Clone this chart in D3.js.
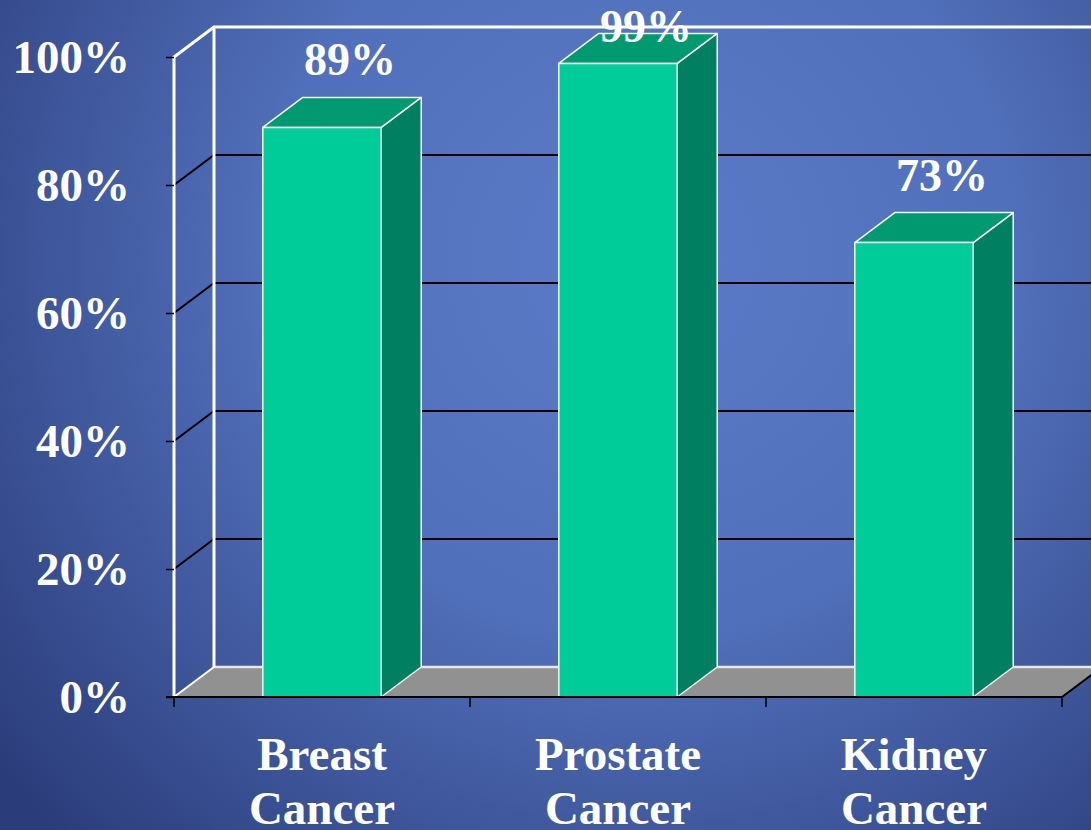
<!DOCTYPE html>
<html>
<head>
<meta charset="utf-8">
<script src="https://cdn.jsdelivr.net/npm/d3@7"></script>
<style>
  html, body { margin: 0; padding: 0; overflow: hidden; }
  svg { display: block; }
  text { font-family: 'Liberation Serif', 'Times New Roman', serif; font-weight: bold; fill: #fff; }
</style>
</head>
<body>
<svg id="chart"></svg>
<script>
/* global d3 */

// data
const categories = ['Breast Cancer', 'Prostate Cancer', 'Kidney Cancer']
const values = [89, 99, 71]
const valueLabels = ['89%', '99%', '73%']
const yTicks = [0, 20, 40, 60, 80, 100]

const width = 1091
const height = 830
const depth = {dx: 40, dy: -30}
const plot = {left: 174, right: 1062, top: 57, bottom: 697}

const svg = d3.select('#chart')
  .attr('width', width)
  .attr('height', height)

const defs = svg.append('defs')
const grad = defs.append('radialGradient')
  .attr('id', 'bg')
  .attr('gradientUnits', 'userSpaceOnUse')
  .attr('cx', 640).attr('cy', 260).attr('r', 820)
grad.append('stop').attr('offset', '0%').attr('stop-color', '#5b7bc8')
grad.append('stop').attr('offset', '45%').attr('stop-color', '#5170bb')
grad.append('stop').attr('offset', '100%').attr('stop-color', '#2b3c7a')

svg.append('rect')
  .attr('width', width).attr('height', height)
  .attr('fill', 'url(#bg)')

const x = d3.scaleBand()
  .domain(categories)
  .range([plot.left, plot.right])
  .paddingInner(0.6)
  .paddingOuter(0.3)

const y = d3.scaleLinear()
  .domain([0, 100])
  .range([plot.bottom, plot.top])

const xEdges = d3.range(categories.length + 1).map(i => plot.left + i * x.step())
const farRight = plot.right + depth.dx

// floor
svg.append('path')
  .attr('d', `M${plot.left},${y(0)} L${plot.right},${y(0)} L${farRight},${y(0) + depth.dy} L${plot.left + depth.dx},${y(0) + depth.dy} Z`)
  .attr('fill', '#919191')
svg.append('line')
  .attr('x1', plot.left + depth.dx).attr('x2', farRight)
  .attr('y1', y(0) + depth.dy).attr('y2', y(0) + depth.dy)
  .attr('stroke', '#e8e8e8').attr('stroke-width', 2.5)
svg.append('line')
  .attr('x1', plot.right).attr('x2', farRight)
  .attr('y1', y(0)).attr('y2', y(0) + depth.dy)
  .attr('stroke', '#000').attr('stroke-width', 2)

// gridlines (front diagonal + back wall line)
const grid = svg.append('g')
grid.selectAll('path')
  .data(yTicks.filter(t => t > 0 && t < 100))
  .enter()
  .append('path')
  .attr('d', t => `M${plot.left},${y(t)} L${plot.left + depth.dx},${y(t) + depth.dy} L${width + 20},${y(t) + depth.dy}`)
  .attr('fill', 'none')
  .attr('stroke', '#000')
  .attr('stroke-width', 2)

// wall outlines
const walls = svg.append('g')
  .attr('fill', 'none')
  .attr('stroke', '#fff')
  .attr('stroke-width', 3)
walls.append('path')
  .attr('d', `M${plot.left},${y(0)} L${plot.left},${y(100)} L${plot.left + depth.dx},${y(100) + depth.dy} L${width + 20},${y(100) + depth.dy}`)
walls.append('path')
  .attr('d', `M${plot.left + depth.dx},${y(100) + depth.dy} L${plot.left + depth.dx},${y(0) + depth.dy}`)
walls.append('path')
  .attr('d', `M${plot.left},${y(0)} L${plot.left + depth.dx},${y(0) + depth.dy}`)
  .attr('stroke-width', 2)

// bars
const rows = categories.map((c, i) => ({cat: c, value: values[i], label: valueLabels[i]}))
const bars = svg.append('g')
  .selectAll('g')
  .data(rows)
  .enter()
  .append('g')
  .attr('stroke', '#f4f4f4')
  .attr('stroke-width', 1.5)
  .attr('stroke-linejoin', 'round')

bars.append('path')
  .attr('d', d => {
    const x0 = x(d.cat) + x.bandwidth()
    return `M${x0},${y(0)} L${x0 + depth.dx},${y(0) + depth.dy} L${x0 + depth.dx},${y(d.value) + depth.dy} L${x0},${y(d.value)} Z`
  })
  .attr('fill', '#008060')

bars.append('path')
  .attr('d', d => {
    const x0 = x(d.cat)
    const x1 = x0 + x.bandwidth()
    const yt = y(d.value)
    return `M${x0},${yt} L${x0 + depth.dx},${yt + depth.dy} L${x1 + depth.dx},${yt + depth.dy} L${x1},${yt} Z`
  })
  .attr('fill', '#009970')

bars.append('rect')
  .attr('x', d => x(d.cat))
  .attr('y', d => y(d.value))
  .attr('width', x.bandwidth())
  .attr('height', d => y(0) - y(d.value))
  .attr('fill', '#00cc99')

// bottom axis line + ticks
svg.append('line')
  .attr('x1', plot.left - 8).attr('x2', plot.right)
  .attr('y1', y(0)).attr('y2', y(0))
  .attr('stroke', '#000').attr('stroke-width', 2)
svg.append('g')
  .selectAll('line')
  .data(xEdges)
  .enter()
  .append('line')
  .attr('x1', d => d).attr('x2', d => d)
  .attr('y1', y(0)).attr('y2', y(0) + 10)
  .attr('stroke', '#000').attr('stroke-width', 1.5)

// left axis
const yAxis = svg.append('g')
  .attr('transform', `translate(${plot.left},0)`)
  .call(d3.axisLeft(y).tickValues(yTicks).tickFormat(d => d + '%').tickSize(8).tickPadding(36))
yAxis.select('.domain').remove()
yAxis.selectAll('line').attr('stroke', '#000').attr('stroke-width', 1.5)
yAxis.selectAll('text')
  .attr('fill', '#fff')
  .style('font-size', '47px')
  .style('font-family', "'Liberation Serif', 'Times New Roman', serif")
  .style('font-weight', 'bold')

// category labels
const catLabels = svg.append('g')
  .selectAll('text')
  .data(categories)
  .enter()
  .append('text')
  .attr('x', d => x(d) + x.bandwidth() / 2)
  .attr('y', 770)
  .attr('text-anchor', 'middle')
  .style('font-size', '47px')
catLabels.selectAll('tspan')
  .data(d => d.split(' '))
  .enter()
  .append('tspan')
  .attr('x', function () { return this.parentNode.getAttribute('x') })
  .attr('dy', (d, i) => i === 0 ? 0 : 54)
  .text(d => d)

// value labels above bars
svg.append('g')
  .selectAll('text')
  .data(rows)
  .enter()
  .append('text')
  .attr('x', d => x(d.cat) + x.bandwidth() / 2 + 28)
  .attr('y', d => Math.max(y(d.value) + depth.dy - 22, 42))
  .attr('text-anchor', 'middle')
  .style('font-size', '46px')
  .text(d => d.label)
</script>
</body>
</html>
